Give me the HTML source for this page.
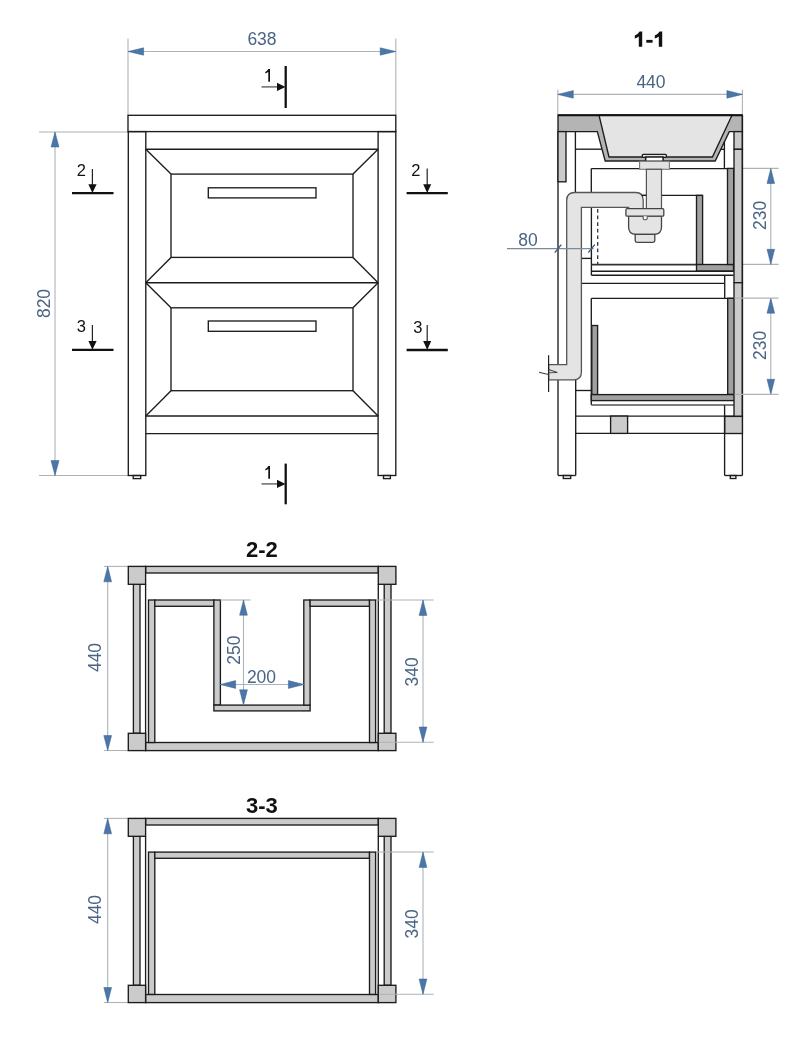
<!DOCTYPE html>
<html><head><meta charset="utf-8">
<style>
html,body{margin:0;padding:0;background:#fff;width:796px;height:1045px;overflow:hidden}
svg{display:block;will-change:transform}
text{font-family:"Liberation Sans",sans-serif}
.k{stroke:#1c1c1c;stroke-width:1.35;fill:none}
.kf{stroke:#1c1c1c;stroke-width:1.35}
.d{stroke:#adb3ba;stroke-width:1.1;fill:none}
.a{fill:#4a77a8;stroke:#3d6290;stroke-width:0.5;stroke-linejoin:round}
.t{fill:#4a6484;font-size:17.5px}
.n{fill:#111;font-size:16.5px}
.b{fill:#111;font-size:21px;font-weight:bold}
</style></head><body>
<svg width="796" height="1045" viewBox="0 0 796 1045">
<rect width="796" height="1045" fill="#fff"/>

<!-- ================= FRONT VIEW ================= -->
<g id="front">
  <!-- dim 638 -->
  <line class="d" x1="128" y1="38.5" x2="128" y2="115"/>
  <line class="d" x1="395.8" y1="38.5" x2="395.8" y2="115"/>
  <line class="d" x1="128" y1="51.5" x2="396" y2="51.5"/>
  <path class="a" d="M128,51.5 L143.6,47.8 L143.6,55.2 Z"/>
  <path class="a" d="M395.8,51.5 L380.2,47.8 L380.2,55.2 Z"/>
  <text class="t" x="262" y="44.5" text-anchor="middle">638</text>
  <!-- dim 820 -->
  <line class="d" x1="39" y1="132" x2="128" y2="132"/>
  <line class="d" x1="39" y1="475.5" x2="128" y2="475.5"/>
  <line class="d" x1="55" y1="132" x2="55" y2="475.5"/>
  <path class="a" d="M55,132 L51,147 L59,147 Z"/>
  <path class="a" d="M55,475.5 L51,460.5 L59,460.5 Z"/>
  <text class="t" transform="translate(43.8,303.5) rotate(-90)" x="0" y="6.1" text-anchor="middle">820</text>

  <!-- cabinet -->
  <rect class="k" x="128" y="115.3" width="267.8" height="16.3" fill="#fff"/>
  <rect class="k" x="128.3" y="131.6" width="17.5" height="343.9"/>
  <rect class="k" x="378.1" y="131.6" width="17.7" height="343.9"/>
  <line class="k" x1="145.8" y1="149.2" x2="378.1" y2="149.2"/>
  <!-- upper drawer -->
  <rect class="k" x="171" y="174.1" width="182" height="83.3"/>
  <line class="k" x1="145.8" y1="149.2" x2="171" y2="174.1"/>
  <line class="k" x1="378.1" y1="149.2" x2="353" y2="174.1"/>
  <line class="k" x1="145.8" y1="282.7" x2="378.1" y2="282.7"/>
  <line class="k" x1="145.8" y1="282.7" x2="171" y2="257.4"/>
  <line class="k" x1="378.1" y1="282.7" x2="353" y2="257.4"/>
  <rect class="k" x="208.3" y="187.8" width="107.7" height="10.1"/>
  <!-- lower drawer -->
  <rect class="k" x="171" y="307.8" width="182" height="82.9"/>
  <line class="k" x1="145.8" y1="282.7" x2="171" y2="307.8"/>
  <line class="k" x1="378.1" y1="282.7" x2="353" y2="307.8"/>
  <line class="k" x1="145.8" y1="416" x2="378.1" y2="416"/>
  <line class="k" x1="145.8" y1="416" x2="171" y2="390.7"/>
  <line class="k" x1="378.1" y1="416" x2="353" y2="390.7"/>
  <rect class="k" x="208.3" y="321" width="107.7" height="10.3"/>
  <line class="k" x1="145.8" y1="433.6" x2="378.1" y2="433.6"/>
  <!-- feet -->
  <rect class="k" x="133.2" y="475.5" width="7.5" height="3.1" stroke-width="1.2"/>
  <rect class="k" x="383.5" y="475.5" width="6.9" height="3.1" stroke-width="1.2"/>

  <!-- section marks -->
  <g>
    <line x1="285.7" y1="66" x2="285.7" y2="108" stroke="#111" stroke-width="2.3"/>
    <line x1="261.5" y1="86.9" x2="278" y2="86.9" stroke="#6a6a6a" stroke-width="1.5"/>
    <path d="M277,82.8 L285.5,86.9 L277,91 Z" fill="#111"/>
    <path fill="#111" d="M268.3,69.1 L270,69.1 L270,81.8 L268.3,81.8 L268.3,72.1 L265.3,73.6 L265.3,72 Q267.4,71 268.3,69.1 Z"/>
  </g>
  <g>
    <line x1="285.7" y1="463.6" x2="285.7" y2="504.3" stroke="#111" stroke-width="2.3"/>
    <line x1="261.5" y1="483.9" x2="278" y2="483.9" stroke="#6a6a6a" stroke-width="1.5"/>
    <path d="M277,479.8 L285.5,483.9 L277,488 Z" fill="#111"/>
    <path fill="#111" transform="translate(0,397)" d="M268.3,69.1 L270,69.1 L270,81.8 L268.3,81.8 L268.3,72.1 L265.3,73.6 L265.3,72 Q267.4,71 268.3,69.1 Z"/>
  </g>
  <g>
    <line x1="72" y1="193.1" x2="113.5" y2="193.1" stroke="#111" stroke-width="2.3"/>
    <line x1="92.4" y1="169" x2="92.4" y2="185" stroke="#222" stroke-width="1.2"/>
    <path d="M88.4,184.2 L96.6,184.2 L92.4,193 Z" fill="#111"/>
    <text class="n" x="76.7" y="176.2">2</text>
  </g>
  <g>
    <line x1="72" y1="349.8" x2="113.5" y2="349.8" stroke="#111" stroke-width="2.3"/>
    <line x1="92.4" y1="325" x2="92.4" y2="342" stroke="#222" stroke-width="1.2"/>
    <path d="M88.4,341 L96.6,341 L92.4,349.8 Z" fill="#111"/>
    <text class="n" x="76.7" y="332.4">3</text>
  </g>
  <g>
    <line x1="406.6" y1="193.1" x2="447.8" y2="193.1" stroke="#111" stroke-width="2.3"/>
    <line x1="427.2" y1="168.6" x2="427.2" y2="185" stroke="#222" stroke-width="1.2"/>
    <path d="M423.2,184.2 L431.2,184.2 L427.2,193 Z" fill="#111"/>
    <text class="n" x="411.2" y="176.3">2</text>
  </g>
  <g>
    <line x1="406.6" y1="350" x2="447.8" y2="350" stroke="#111" stroke-width="2.3"/>
    <line x1="427.2" y1="325" x2="427.2" y2="342" stroke="#222" stroke-width="1.2"/>
    <path d="M423.2,341 L431.2,341 L427.2,350 Z" fill="#111"/>
    <text class="n" x="413.2" y="332.6">3</text>
  </g>
</g>

<!-- ================= SECTION 1-1 ================= -->
<g id="s11">
  <path fill="#111" d="M642.2,31.4 L642.2,46.7 L638.8,46.7 L638.8,36.6 Q637,38 634.8,38.6 L634.8,35.5 Q637.8,34.3 639.6,31.4 Z"/><path fill="#111" transform="translate(20,0)" d="M642.2,31.4 L642.2,46.7 L638.8,46.7 L638.8,36.6 Q637,38 634.8,38.6 L634.8,35.5 Q637.8,34.3 639.6,31.4 Z"/><rect x="646.3" y="39.9" width="6.3" height="2.8" fill="#111"/>
  <!-- dim 440 -->
  <line class="d" x1="557.8" y1="89.8" x2="557.8" y2="115"/>
  <line class="d" x1="742.4" y1="89.8" x2="742.4" y2="115"/>
  <line class="d" x1="558" y1="94.4" x2="742.4" y2="94.4"/>
  <path class="a" d="M557.8,94.4 L573.3,90.6 L573.3,98.2 Z"/>
  <path class="a" d="M742.4,94.4 L726.9,90.6 L726.9,98.2 Z"/>
  <text class="t" x="651" y="87.8" text-anchor="middle">440</text>
  <!-- dim 230 x2 -->
  <line class="d" x1="742.4" y1="168.4" x2="778.5" y2="168.4"/>
  <line class="d" x1="742.4" y1="264.4" x2="778.5" y2="264.4"/>
  <line class="d" x1="770.8" y1="168.4" x2="770.8" y2="264.4"/>
  <path class="a" d="M770.8,168.4 L767,183.5 L774.6,183.5 Z"/>
  <path class="a" d="M770.8,264.4 L767,249.3 L774.6,249.3 Z"/>
  <text class="t" transform="translate(759.8,215.3) rotate(-90)" x="0" y="6.1" text-anchor="middle">230</text>
  <line class="d" x1="770.8" y1="298.1" x2="770.8" y2="394.4"/>
  <path class="a" d="M770.8,298.1 L767,313.2 L774.6,313.2 Z"/>
  <path class="a" d="M770.8,394.4 L767,379.3 L774.6,379.3 Z"/>
  <text class="t" transform="translate(759.8,345.3) rotate(-90)" x="0" y="6.1" text-anchor="middle">230</text>
  <!-- slab + basin -->
  <path class="kf" fill="#b4b4b4" d="M558,115.2 L742.4,115.2 L742.4,131.6 L729.3,131.6 L715.2,161 L605.2,161 L597.3,131.6 L558,131.6 Z"/>
  <path class="kf" fill="#e4e4e4" d="M599,115.2 L732,115.2 L712.4,157 L609,157 Z"/>
  <line x1="558" y1="115.2" x2="742.4" y2="115.2" stroke="#111" stroke-width="2"/>
  <!-- drain -->
  <rect x="642.3" y="154.3" width="24.1" height="3" rx="1" fill="#e4e4e4" stroke="#1c1c1c" stroke-width="1.3"/>
  <rect x="645.7" y="157" width="17.4" height="4.3" fill="#fff" stroke="#1c1c1c" stroke-width="1.5"/>

  <!-- left structure -->
  <line class="k" x1="558" y1="131.6" x2="558" y2="364.7"/>
  <line class="k" x1="558" y1="379.8" x2="558" y2="475.5"/>
  <rect class="kf" fill="#cbcbcb" x="558" y="131.6" width="8" height="50.2"/>
  <line class="k" x1="575.4" y1="131.6" x2="575.4" y2="192.5"/>
  <line class="k" x1="575.4" y1="149.2" x2="601.8" y2="149.2"/>
  <line class="k" x1="591.3" y1="168.6" x2="591.3" y2="192.5"/>
  <line class="k" x1="591.3" y1="168.6" x2="639.6" y2="168.6"/>
  <line class="k" x1="669.4" y1="168.6" x2="734" y2="168.6"/>
  <line class="k" x1="591.4" y1="207" x2="591.4" y2="275.2"/>
  <line class="k" x1="581.5" y1="258.4" x2="591.4" y2="258.4"/>
  <line x1="597.7" y1="209" x2="597.7" y2="264" stroke="#333" stroke-width="1.3" stroke-dasharray="3.7,2.9"/>
  <!-- upper drawer -->
  <line class="k" x1="591.3" y1="195.4" x2="702.6" y2="195.4"/>
  <rect class="kf" fill="#a0a0a0" x="696.5" y="195.4" width="6.1" height="69.2"/>
  <line x1="591.4" y1="264.6" x2="696.5" y2="264.6" stroke="#333" stroke-width="1.8"/>
  <rect class="kf" fill="#a0a0a0" x="696.5" y="264.5" width="37" height="6.7"/>
  <line class="k" x1="591.4" y1="271.2" x2="733.5" y2="271.2"/>
  <line class="k" x1="591.4" y1="275.2" x2="733.5" y2="275.2"/>
  <rect class="kf" fill="#a0a0a0" x="727.5" y="168.4" width="6.2" height="96.1"/>
  <!-- middle -->
  <line class="k" x1="581.5" y1="283.4" x2="724.7" y2="283.4"/>
  <line class="k" x1="724.7" y1="275.2" x2="724.7" y2="298.3"/>
  <line class="k" x1="591.4" y1="298.3" x2="733.5" y2="298.3"/>
  <line class="k" x1="591.3" y1="298.3" x2="591.3" y2="405.1"/>
  <!-- lower drawer -->
  <rect class="kf" fill="#a0a0a0" x="591.8" y="325.5" width="5.8" height="69.1"/>
  <rect class="kf" fill="#a0a0a0" x="727.7" y="298.3" width="6.9" height="96.1"/>
  <rect class="kf" fill="#a0a0a0" x="591.3" y="394.6" width="143.3" height="6"/>
  <line x1="591.3" y1="405.1" x2="734.6" y2="405.1" stroke="#555" stroke-width="1.5"/>
  <line class="k" x1="575.7" y1="390.5" x2="591.3" y2="390.5"/>
  <!-- bottom rails -->
  <line class="k" x1="575.7" y1="416.1" x2="742.3" y2="416.1"/>
  <line class="k" x1="575.7" y1="433.4" x2="742.3" y2="433.4"/>
  <rect class="kf" fill="#cbcbcb" x="610.6" y="416.1" width="17" height="17.3"/>
  <line class="k" x1="575.7" y1="379.8" x2="575.7" y2="475.5"/>
  <line class="k" x1="558" y1="475.5" x2="575.7" y2="475.5"/>
  <rect class="k" x="563.3" y="475.5" width="7.4" height="3" stroke-width="1.2"/>
  <!-- right structure -->
  <rect class="kf" fill="#c9c9c9" x="734" y="131.6" width="8.4" height="17.7"/>
  <rect class="kf" fill="#cbcbcb" x="734" y="149.3" width="8.4" height="133.4"/>
  <rect class="kf" fill="#cbcbcb" x="734" y="282.7" width="8.4" height="133.7"/>
  <line class="k" x1="742.4" y1="115" x2="742.4" y2="475.5"/>
  <line class="k" x1="724.4" y1="141.5" x2="724.4" y2="168.4"/>
  <line class="k" x1="720.6" y1="149.3" x2="724.4" y2="149.3"/>
  <rect class="kf" fill="#cbcbcb" x="724.6" y="416.4" width="17.8" height="17.1"/>
  <line class="k" x1="724.6" y1="405.1" x2="724.6" y2="475.5"/>
  <line class="k" x1="724.6" y1="475.5" x2="742.4" y2="475.5"/>
  <rect class="k" x="730.3" y="475.5" width="5.6" height="3" stroke-width="1.2"/>

  <line class="d" x1="734.5" y1="298.1" x2="778.5" y2="298.1"/>
  <line class="d" x1="734.5" y1="394.4" x2="778.5" y2="394.4"/>
  <rect x="639.6" y="161.3" width="29.8" height="8" fill="#e2e2e2" stroke="#777" stroke-width="1.1"/>
  <rect x="646.4" y="169.3" width="15.1" height="39.4" fill="#e4e4e4" stroke="#555" stroke-width="1.2"/>
  <!-- pipe (in front) -->
  <path fill="#e4e4e4" stroke="#555" stroke-width="1.3" d="M548.6,364.7 L566.7,364.7 L566.7,200.5 Q566.7,192.5 574.7,192.5 L635.7,192.5 Q643.2,192.5 643.2,200.2 L643.2,209 L628.6,209 L628.6,207.4 L581.4,207.4 L581.4,372 Q581.4,379.8 573.6,379.8 L548.6,379.8 Z"/>
  <line x1="641.6" y1="195.4" x2="646.4" y2="195.4" stroke="#1c1c1c" stroke-width="1.3"/>
  <!-- bottle trap -->
  <path fill="#e4e4e4" stroke="#444" stroke-width="1.3" d="M628.6,216 L661.5,216 L661.5,227 Q661.5,234.3 654.2,234.3 L635.9,234.3 Q628.6,234.3 628.6,227 Z"/>
  <path fill="#e4e4e4" stroke="#444" stroke-width="1.3" d="M635.2,234.3 L654.8,234.3 L654.8,240.6 Q654.8,242.4 653,242.4 L637,242.4 Q635.2,242.4 635.2,240.6 Z"/>
  <rect x="625.9" y="208.7" width="37.9" height="7.5" rx="1.2" fill="#e4e4e4" stroke="#444" stroke-width="1.3"/>
  <path fill="#fff" stroke="#555" stroke-width="1.1" d="M643.2,216.2 L643.2,218.5 Q643.2,219.7 644.4,219.7 L646,219.7 Q647.2,219.7 647.2,218.5 L647.2,216.2"/>
  <!-- break symbol -->
  <line x1="548.6" y1="355.2" x2="548.6" y2="391.9" stroke="#222" stroke-width="1.2"/>
  <path d="M539,372.2 L548.4,374.5 M548.6,369.4 L557.3,372.5 L548.6,372.7" fill="none" stroke="#444" stroke-width="1.1"/>
  <!-- dim 80 -->
  <line x1="507" y1="248.6" x2="593.6" y2="248.6" stroke="#7d8a99" stroke-width="1.1"/>
  <line x1="554.8" y1="252.6" x2="561.3" y2="244.6" stroke="#3f5a7c" stroke-width="1.4"/>
  <line x1="588.3" y1="252.6" x2="594.8" y2="244.6" stroke="#3f5a7c" stroke-width="1.4"/>
  <text class="t" x="528" y="245.6" text-anchor="middle">80</text>

</g>

<!-- ================= SECTION 2-2 / 3-3 common frame ================= -->


<g id="s22">
  <text class="b" x="261.9" y="556.7" text-anchor="middle" style="font-size:22px">2-2</text>
  <g>
    <!-- dim 440 -->
    <line class="d" x1="104" y1="566.4" x2="128.3" y2="566.4"/>
    <line class="d" x1="104" y1="750.5" x2="128.3" y2="750.5"/>
    <line class="d" x1="107.7" y1="566.4" x2="107.7" y2="750.5"/>
    <path class="a" d="M107.7,566.4 L103.8,581.8 L111.6,581.8 Z"/>
    <path class="a" d="M107.7,750.5 L103.8,735.5 L111.6,735.5 Z"/>
    <text class="t" transform="translate(94.9,657.5) rotate(-90)" x="0" y="6.1" text-anchor="middle">440</text>
    <!-- rails -->
    <rect class="kf" fill="#cbcbcb" x="145.6" y="566.4" width="232.7" height="6.6"/>
    <rect class="kf" fill="#cbcbcb" x="145.6" y="742.5" width="232.7" height="8.1"/>
    <rect class="kf" fill="#cbcbcb" x="133.4" y="584.3" width="6.6" height="149"/>
    <rect class="kf" fill="#cbcbcb" x="384.2" y="584.3" width="6.8" height="149"/>
    <line class="k" x1="145.6" y1="584.3" x2="145.6" y2="742.5"/>
    <line class="k" x1="378.3" y1="584.3" x2="378.3" y2="742.5"/>
    <!-- legs -->
    <rect class="kf" fill="#cbcbcb" x="128.3" y="566.4" width="17.3" height="17.9"/>
    <rect class="kf" fill="#cbcbcb" x="378.3" y="566.4" width="17.6" height="17.9"/>
    <rect class="kf" fill="#cbcbcb" x="128.3" y="733.3" width="17.3" height="17.3"/>
    <rect class="kf" fill="#cbcbcb" x="378.3" y="733.3" width="17.6" height="17.3"/>
    <!-- dim 340 -->
    <line class="d" x1="375.6" y1="600" x2="433.7" y2="600"/>
    <line class="d" x1="378.8" y1="742.2" x2="433.7" y2="742.2"/>
    <line class="d" x1="423" y1="600" x2="423" y2="742.2"/>
    <path class="a" d="M423,600 L419.1,615.4 L426.9,615.4 Z"/>
    <path class="a" d="M423,742.2 L419.1,727 L426.9,727 Z"/>
    <text class="t" transform="translate(411.9,671.8) rotate(-90)" x="0" y="6.1" text-anchor="middle">340</text>
  </g>
  <!-- drawer U -->
  <rect class="kf" fill="#cbcbcb" x="148.5" y="600" width="6.3" height="142.5"/>
  <rect class="kf" fill="#cbcbcb" x="154.8" y="600" width="59.1" height="6.3"/>
  <rect class="kf" fill="#cbcbcb" x="213.9" y="600" width="6.5" height="105.1"/>
  <rect class="kf" fill="#cbcbcb" x="213.9" y="705.1" width="96.2" height="5.8"/>
  <rect class="kf" fill="#cbcbcb" x="303.8" y="600" width="6.3" height="105.1"/>
  <rect class="kf" fill="#cbcbcb" x="310.1" y="600" width="59.4" height="6.3"/>
  <rect class="kf" fill="#cbcbcb" x="369.5" y="600" width="6.1" height="142.5"/>
  <!-- dim 250 -->
  <line class="d" x1="220.4" y1="600" x2="250.6" y2="600"/>
  <line class="d" x1="243.5" y1="600" x2="243.5" y2="705"/>
  <path class="a" d="M243.5,600 L239.6,615.2 L247.4,615.2 Z"/>
  <path class="a" d="M243.5,705 L239.6,689.8 L247.4,689.8 Z"/>
  <text class="t" transform="translate(233.7,650.2) rotate(-90)" x="0" y="6.1" text-anchor="middle">250</text>
  <!-- dim 200 -->
  <line class="d" x1="220.4" y1="684.5" x2="304" y2="684.5"/>
  <path class="a" d="M220.4,684.5 L235.6,680.6 L235.6,688.4 Z"/>
  <path class="a" d="M304,684.5 L288.4,680.6 L288.4,688.4 Z"/>
  <text class="t" x="261.5" y="682.9" text-anchor="middle">200</text>
</g>

<g id="s33">
  <text class="b" x="261.8" y="813" text-anchor="middle" style="font-size:22px">3-3</text>
  <g transform="translate(0,252)">
    <!-- dim 440 -->
    <line class="d" x1="104" y1="566.4" x2="128.3" y2="566.4"/>
    <line class="d" x1="104" y1="750.5" x2="128.3" y2="750.5"/>
    <line class="d" x1="107.7" y1="566.4" x2="107.7" y2="750.5"/>
    <path class="a" d="M107.7,566.4 L103.8,581.8 L111.6,581.8 Z"/>
    <path class="a" d="M107.7,750.5 L103.8,735.5 L111.6,735.5 Z"/>
    <text class="t" transform="translate(94.9,657.5) rotate(-90)" x="0" y="6.1" text-anchor="middle">440</text>
    <!-- rails -->
    <rect class="kf" fill="#cbcbcb" x="145.6" y="566.4" width="232.7" height="6.6"/>
    <rect class="kf" fill="#cbcbcb" x="145.6" y="742.5" width="232.7" height="8.1"/>
    <rect class="kf" fill="#cbcbcb" x="133.4" y="584.3" width="6.6" height="149"/>
    <rect class="kf" fill="#cbcbcb" x="384.2" y="584.3" width="6.8" height="149"/>
    <line class="k" x1="145.6" y1="584.3" x2="145.6" y2="742.5"/>
    <line class="k" x1="378.3" y1="584.3" x2="378.3" y2="742.5"/>
    <!-- legs -->
    <rect class="kf" fill="#cbcbcb" x="128.3" y="566.4" width="17.3" height="17.9"/>
    <rect class="kf" fill="#cbcbcb" x="378.3" y="566.4" width="17.6" height="17.9"/>
    <rect class="kf" fill="#cbcbcb" x="128.3" y="733.3" width="17.3" height="17.3"/>
    <rect class="kf" fill="#cbcbcb" x="378.3" y="733.3" width="17.6" height="17.3"/>
    <!-- dim 340 -->
    <line class="d" x1="375.6" y1="600" x2="433.7" y2="600"/>
    <line class="d" x1="378.8" y1="742.2" x2="433.7" y2="742.2"/>
    <line class="d" x1="423" y1="600" x2="423" y2="742.2"/>
    <path class="a" d="M423,600 L419.1,615.4 L426.9,615.4 Z"/>
    <path class="a" d="M423,742.2 L419.1,727 L426.9,727 Z"/>
    <text class="t" transform="translate(411.9,671.8) rotate(-90)" x="0" y="6.1" text-anchor="middle">340</text>
  </g>
  <rect class="kf" fill="#cbcbcb" x="148.5" y="852.1" width="6.3" height="142.3"/>
  <rect class="kf" fill="#cbcbcb" x="154.8" y="852.1" width="214.7" height="6.2"/>
  <rect class="kf" fill="#cbcbcb" x="369.5" y="852.1" width="6.1" height="142.3"/>
</g>

</svg>
</body></html>
